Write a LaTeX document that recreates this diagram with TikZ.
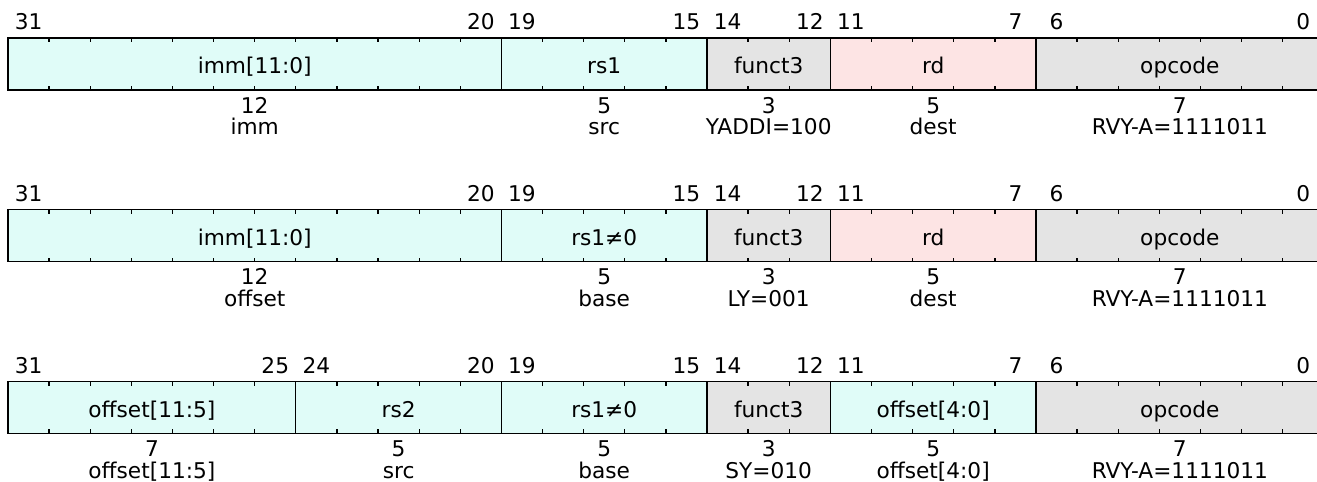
\documentclass[tikz,border=0pt]{standalone}
\usepackage{fontspec}
\setmainfont{DejaVu Sans}
\usetikzlibrary{positioning, calc}
\definecolor{fieldCyan}{HTML}{E0FCF8}
\definecolor{fieldGray}{HTML}{E4E4E4}
\definecolor{fieldPink}{HTML}{FDE4E4}

\begin{document}
\begin{tikzpicture}[
    node distance=0cm,
    field/.style={draw, line width=0.9pt, minimum width=#1cm,
                  minimum height=1.265cm, inner sep=0pt, outer sep=0pt,
                  text height=0.48cm, text depth=0cm,
                  anchor=west, font=\fontsize{15}{18}\selectfont},
    bitnum/.style={anchor=base, inner sep=0pt, font=\fontsize{15}{18}\selectfont},
    info/.style={anchor=base, inner sep=0pt, font=\fontsize{15}{18}\selectfont},
    tick/.style={line width=0.9pt},
]
\useasboundingbox (0,0) rectangle (32.03,-11.70);
\clip (0,0) rectangle (32.03,-11.70);

% YADDI
\node[field=12, fill=fieldCyan] (a1) at (0.195,-1.556) {imm[11:0]};
\node[field=5, fill=fieldCyan, right=of a1] (a2) {rs1};
\node[field=3, fill=fieldGray, right=of a2] (a3) {funct3};
\node[field=5, fill=fieldPink, right=of a3] (a4) {rd};
\node[field=7, fill=fieldGray, right=of a4] (a5) {opcode};

% LY
\node[field=12, fill=fieldCyan] (b1) at (0.195,-5.734) {imm[11:0]};
\node[field=5, fill=fieldCyan, right=of b1] (b2) {rs1≠0};
\node[field=3, fill=fieldGray, right=of b2] (b3) {funct3};
\node[field=5, fill=fieldPink, right=of b3] (b4) {rd};
\node[field=7, fill=fieldGray, right=of b4] (b5) {opcode};

% SY
\node[field=7, fill=fieldCyan] (c1) at (0.195,-9.912) {offset[11:5]};
\node[field=5, fill=fieldCyan, right=of c1] (c2) {rs2};
\node[field=5, fill=fieldCyan, right=of c2] (c3) {rs1≠0};
\node[field=3, fill=fieldGray, right=of c3] (c4) {funct3};
\node[field=5, fill=fieldCyan, right=of c4] (c5) {offset[4:0]};
\node[field=7, fill=fieldGray, right=of c5] (c6) {opcode};

% bit ticks
\foreach \r in {a1,b1,c1}
  \foreach \x in {1,...,31}
    \draw[tick] ($(\r.north west)+(\x,0)$) -- ++(0,-0.1)
                ($(\r.south west)+(\x,0)$) -- ++(0,0.1);

% bit numbers
\foreach \f/\m/\l in {a1/31/20, a2/19/15, a3/14/12, a4/11/7, a5/6/0,
                      b1/31/20, b2/19/15, b3/14/12, b4/11/7, b5/6/0,
                      c1/31/25, c2/24/20, c3/19/15, c4/14/12, c5/11/7, c6/6/0} {
  \node[bitnum] (\f-msb) at ($(\f.north west)+(0.5,0.195)$) {\m};
  \node[bitnum] (\f-lsb) at ($(\f.north east)+(-0.5,0.195)$) {\l};
}

% widths and meanings
\foreach \f/\n/\d in {a1/12/imm, a2/5/src, a3/3/YADDI=100, a4/5/dest, a5/7/RVY-A=1111011,
                      b1/12/offset, b2/5/base, b3/3/LY=001, b4/5/dest, b5/7/RVY-A=1111011,
                      c1/7/offset[11:5], c2/5/src, c3/5/base, c4/3/SY=010,
                      c5/5/offset[4:0], c6/7/RVY-A=1111011} {
  \node[info] (\f-w) at ($(\f.south)+(0,-0.56)$) {\n};
  \node[info] (\f-d) at ($(\f.south)+(0,-1.094)$) {\d};
}
\end{tikzpicture}
\end{document}
